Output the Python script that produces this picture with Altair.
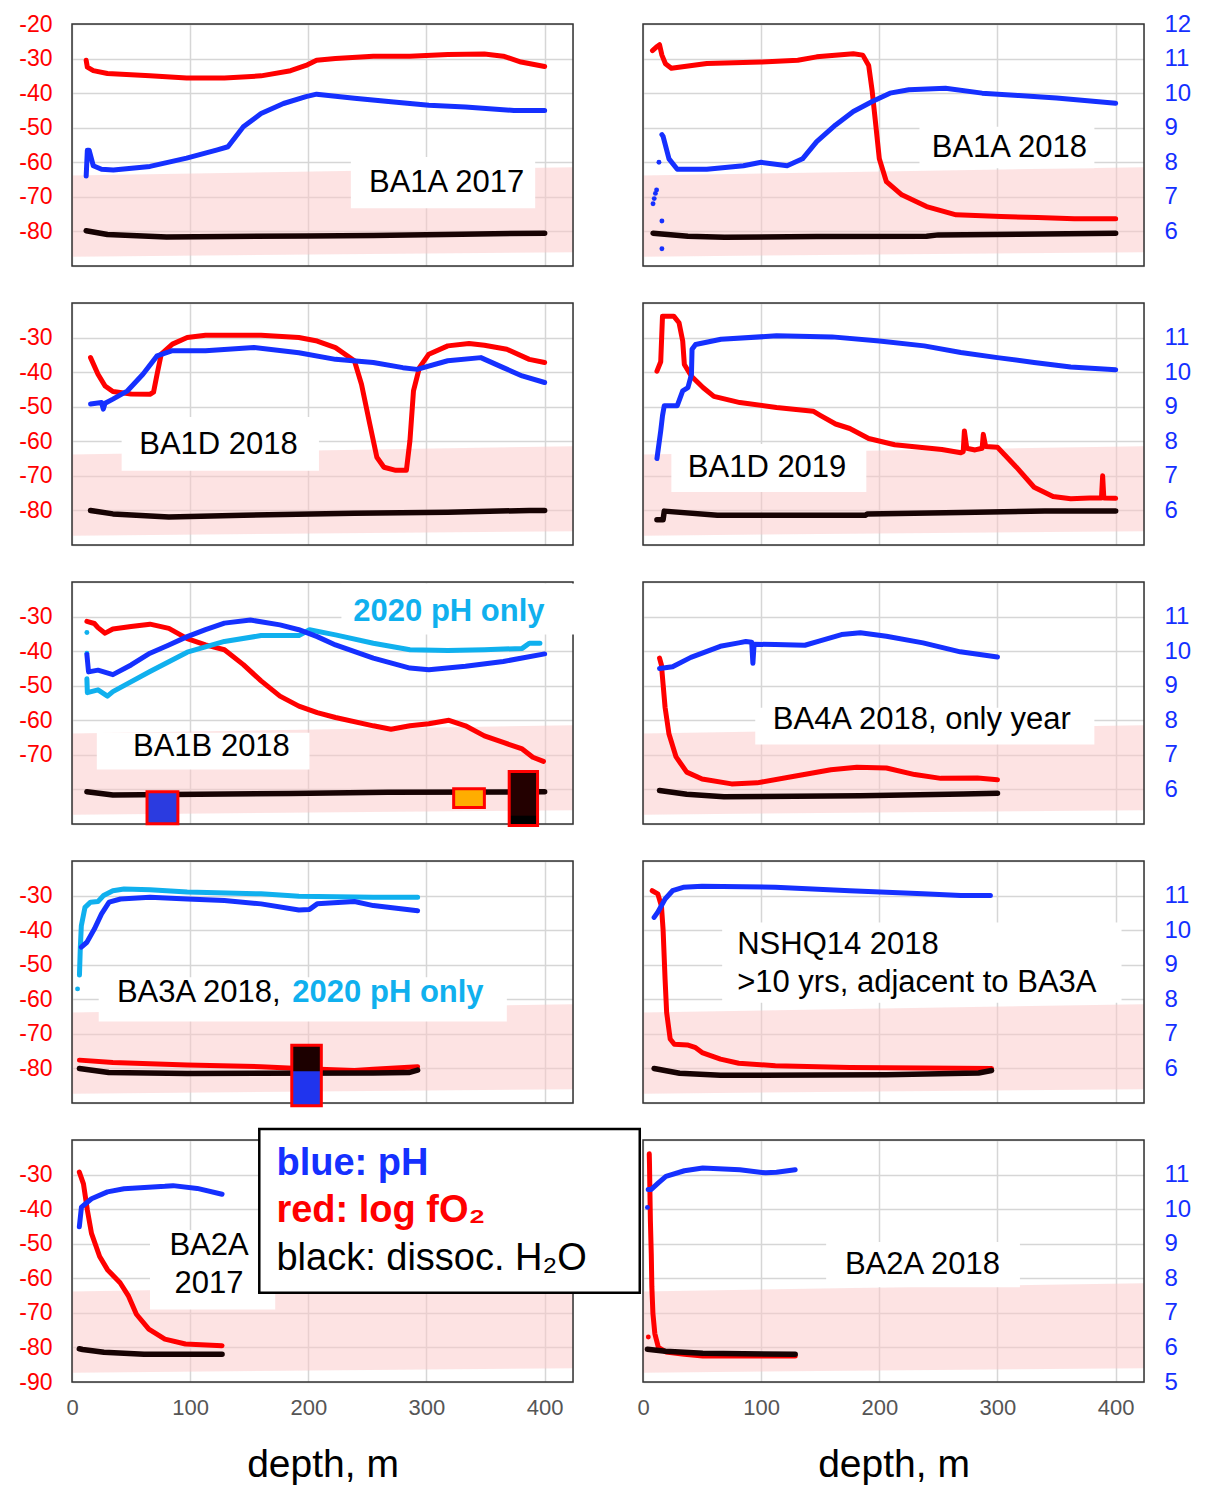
import altair as alt
import pandas as pd

FONT = "Liberation Sans"
RED = "#ff0000"
BLUE = "#1530ff"
LBLUE = "#10b0ee"
DARK = "#170303"
GRID = "#d6d6d6"
PINK = "#fbc8c8"
FRAME = "#333333"

# ---------------- data: [depth m, value] ----------------
# red = log fO2, black = dissociation of H2O (log fO2 units), blue / light blue = pH

# BA1A 2017
ba1a17_red = [[12, -30.5], [13, -32.5], [18, -33.5], [30, -34.3], [66, -35], [97, -35.6], [129, -35.6],
              [160, -35], [185, -33.5], [198, -32], [207, -30.5], [223, -30], [255, -29.3], [286, -29.3],
              [318, -28.8], [349, -28.7], [365, -29.3], [380, -31], [400, -32.3]]
ba1a17_ph = [[12, 7.6], [13, 8.35], [14.5, 8.35], [18, 7.9], [25, 7.8], [35, 7.78], [66, 7.88], [97, 8.12],
             [123, 8.36], [132, 8.45], [145, 9.03], [160, 9.41], [179, 9.7], [198, 9.9], [207, 9.97],
             [239, 9.85], [270, 9.75], [302, 9.65], [333, 9.6], [374, 9.5], [400, 9.5]]
ba1a17_h2o = [[12, -79.8], [30, -80.9], [80, -81.6], [200, -81.3], [255, -81.2], [330, -80.8], [400, -80.5]]

# BA1A 2018
ba1a18_red = [[8, -27.7], [12, -26.5], [14, -26], [16, -29], [19, -31.5], [24, -32.8], [54, -31.4],
              [100, -31], [131, -30.5], [147, -29.5], [178, -28.6], [186, -29], [191, -32], [194, -39.5],
              [197, -49.2], [200, -59], [206, -65.6], [219, -69.4], [240, -72.8], [265, -75.2],
              [303, -75.7], [334, -76], [365, -76.3], [400, -76.3]]
ba1a18_ph = [[16, 8.8], [17, 8.75], [22, 8.1], [29, 7.8], [54, 7.8], [85, 7.9], [100, 8.0], [122, 7.9],
             [135, 8.1], [147, 8.6], [163, 9.08], [178, 9.47], [194, 9.76], [209, 10.0], [225, 10.1],
             [256, 10.14], [287, 10.0], [318, 9.93], [350, 9.86], [400, 9.71]]
ba1a18_ph_dots = [[8.5, 6.8], [9.5, 6.95], [10.5, 7.1], [11.5, 7.2], [13.5, 8.0], [16, 6.3], [16, 5.5]]
ba1a18_h2o = [[8.5, -80.5], [38, -81.4], [69, -81.7], [147, -81.5], [240, -81.4], [250, -81.0],
              [318, -80.8], [400, -80.5]]

# BA1D 2018
ba1d18_red = [[15.7, -35.8], [22, -40.6], [28, -44], [34.6, -45.6], [50, -46.3], [66, -46.4], [69, -45.8],
              [72, -40.6], [75.5, -34.8], [85, -31.9], [97.5, -30], [113, -29.3], [160, -29.3], [192, -30],
              [207.5, -31], [223, -32.9], [239, -36.7], [245, -43.5], [252, -55], [258, -64.6],
              [264, -67.5], [274, -68.4], [283, -68.4], [286, -59.8], [289, -45.4], [294, -38.7],
              [302, -34.8], [318, -32.4], [336, -31.7], [349, -32.2], [368, -33.4], [387, -36.3], [400, -37.2]]
ba1d18_ph = [[15.7, 9.08], [25, 9.12], [26.5, 8.93], [28, 9.1], [34.6, 9.22], [47, 9.46], [60, 9.94],
             [72, 10.47], [85, 10.62], [113, 10.62], [154, 10.71], [192, 10.56], [223, 10.37], [255, 10.28],
             [280, 10.13], [292, 10.08], [318, 10.33], [346, 10.42], [365, 10.13], [381, 9.89], [400, 9.7]]
ba1d18_h2o = [[15.7, -80], [34.6, -81], [82, -81.9], [145, -81.4], [239, -80.8], [318, -80.5],
              [387, -80], [400, -80]]

# BA1D 2019
ba1d19_red = [[11.8, -39.7], [15, -37], [16.5, -23.8], [26, -23.8], [30.5, -25.7], [33.6, -31], [35, -37.8],
              [41, -41.2], [51, -44.5], [60, -47], [82, -48.8], [113, -50.2], [144, -51.3], [150, -52.5],
              [163, -55], [175, -56.3], [191, -59.2], [213, -61], [253, -62.4], [269, -63.3], [271, -63],
              [272, -57], [274, -62], [281, -62.5], [287, -62], [288, -58], [290, -61.5], [300, -61.7],
              [316, -67.5], [331, -73.3], [347, -76], [362, -76.6], [378, -76.4], [388, -76.4], [389, -70],
              [390, -76.4], [400, -76.5]]
ba1d19_ph = [[11.8, 7.5], [15, 8.3], [16.5, 8.74], [18, 9.03], [29, 9.03], [33.6, 9.46], [38, 9.55],
             [41, 9.93], [41.5, 10.66], [44.5, 10.8], [66, 10.95], [113, 11.05], [160, 11.02], [200, 10.9],
             [238, 10.76], [269, 10.57], [300, 10.42], [331, 10.28], [362, 10.15], [400, 10.07]]
ba1d19_h2o = [[11.8, -82.7], [17, -82.7], [18, -80.2], [63, -81.4], [188, -81.4], [190, -81],
              [269, -80.6], [340, -80.2], [400, -80.2]]

# BA1B 2018 (+ 2020 pH)
ba1b18_red = [[12.6, -31.4], [18.9, -32], [22, -33.2], [28, -34.8], [34.6, -33.6], [50, -32.9], [66, -32.2],
              [82, -33.4], [97.5, -36.4], [113, -38.2], [129, -39.6], [145, -43.9], [160, -48.6], [176, -53],
              [192, -55.9], [207.5, -57.8], [223, -59.2], [255, -61.6], [270, -62.6], [286, -61.6],
              [302, -61], [319, -60], [333, -61.6], [349, -64.5], [365, -66.4], [381, -68.3], [390, -70.7],
              [399, -71.9]]
ba1b18_ph = [[12.6, 9.9], [14, 9.4], [22, 9.45], [34.6, 9.32], [50, 9.6], [66, 9.94], [82, 10.18],
             [97.5, 10.42], [113, 10.62], [129, 10.81], [151, 10.9], [176, 10.76], [192, 10.62],
             [207.5, 10.42], [223, 10.18], [255, 9.8], [286, 9.51], [302, 9.46], [333, 9.56], [365, 9.7],
             [381, 9.8], [400, 9.92]]
ba1b20_ph = [[12.6, 9.2], [13, 8.8], [22, 8.88], [30, 8.7], [34.6, 8.83], [66, 9.41], [97.5, 9.97],
             [129, 10.28], [160, 10.45], [192, 10.45], [201, 10.62], [223, 10.47], [255, 10.23],
             [286, 10.04], [318, 10.02], [349, 10.04], [381, 10.08], [387, 10.23], [396, 10.23]]
ba1b20_ph_dots = [[12.6, 10.54], [12.6, 9.94]]
ba1b18_h2o = [[12.6, -80.7], [34.6, -81.6], [185, -81.2], [267, -80.8], [400, -80.7]]

# BA4A 2018
ba4a18_red = [[14, -42], [15.6, -44], [17, -49.6], [18.7, -56.3], [22, -64], [28, -70.6], [37, -75],
              [50, -77], [75, -78.4], [96.5, -78.1], [128, -76.2], [159, -74.3], [181, -73.6], [206, -73.8],
              [230, -75.7], [252, -76.8], [283, -76.7], [300, -77.2]]
ba4a18_ph = [[14, 9.5], [25, 9.55], [40.5, 9.82], [65.4, 10.14], [81, 10.24], [87, 10.28], [92, 10.26],
             [93, 9.65], [94, 10.2], [112, 10.19], [137, 10.17], [149, 10.29], [168, 10.48], [184, 10.53],
             [206, 10.43], [237, 10.24], [268.5, 9.98], [300, 9.83]]
ba4a18_h2o = [[14, -80.3], [37, -81.4], [68.5, -82.1], [184, -81.8], [271, -81.3], [300, -81.1]]

# BA3A 2018 (+ 2020 pH)
ba3a18_red = [[6.3, -77.6], [34.6, -78.3], [97.5, -79], [160, -79.5], [192, -80], [239, -80.6],
              [255, -80.2], [292.5, -79.5]]
ba3a18_ph = [[7.9, 9.51], [12.6, 9.65], [18.9, 10.03], [25, 10.47], [31.4, 10.81], [41, 10.9], [66, 10.95],
             [97.5, 10.9], [129, 10.86], [160, 10.76], [192, 10.58], [201, 10.6], [207.5, 10.76],
             [239, 10.83], [255, 10.71], [292.5, 10.56]]
ba3a20_ph = [[6.3, 8.7], [7, 9.46], [7.9, 10.13], [11, 10.66], [15.7, 10.81], [22, 10.83], [26.7, 11.0],
             [34.6, 11.14], [44, 11.19], [66, 11.17], [97.5, 11.1], [160, 11.05], [192, 10.98],
             [255, 10.95], [292.5, 10.95]]
ba3a20_ph_dots = [[4.7, 8.3]]
ba3a18_h2o = [[6.3, -80], [31, -81.2], [97.5, -81.5], [255, -81.3], [285, -81.2], [292.5, -80.5]]

# NSHQ14 2018
nshq14_red = [[7.8, -28.6], [12.5, -29.5], [15.6, -33], [17, -39.8], [18.7, -54.3], [20, -63.8], [23, -71.5],
              [26.5, -73], [37.5, -73.2], [44, -73.9], [50, -75.4], [65.6, -77.3], [81, -78.5], [112, -79.2],
              [175, -79.7], [237, -79.9], [295, -80]]
nshq14_ph = [[9.4, 10.37], [12.5, 10.52], [18.7, 10.9], [25, 11.14], [34, 11.24], [50, 11.27],
             [112, 11.24], [175, 11.14], [237, 11.05], [269, 11.0], [294, 11.0]]
nshq14_h2o = [[9.4, -80], [31, -81.4], [65.6, -82], [206, -81.8], [284, -81.3], [295, -80.6]]

# BA2A 2017
ba2a17_red = [[6.2, -29.3], [9.7, -32.7], [13, -40.3], [16.5, -47], [23.4, -53.7], [30, -57.5],
              [40.7, -61.3], [47.6, -65], [54.5, -70.4], [65, -74.7], [78.6, -77.6], [96, -79], [127, -79.5]]
ba2a17_ph = [[6.2, 9.49], [8, 10.06], [16.5, 10.3], [30, 10.5], [44, 10.59], [78.6, 10.66], [85.5, 10.68],
             [106, 10.6], [127, 10.43]]
ba2a17_h2o = [[6.2, -80.4], [9, -80.6], [27, -81.4], [61, -82], [127, -82]]

# BA2A 2018
ba2a18_red = [[5.3, -24], [5.5, -27], [5.8, -33.8], [6.25, -43.3], [7, -52.9], [7.5, -62.5], [8.4, -70.2],
              [10, -76], [13, -80], [19.4, -81.3], [35, -82], [50.6, -82.5], [128.8, -82.5]]
ba2a18_red_dots = [[4.5, -77]]
ba2a18_ph = [[4.4, 10.57], [7, 10.57], [13, 10.76], [19.4, 10.95], [35, 11.11], [50.6, 11.19],
             [81.9, 11.14], [103.8, 11.05], [113, 11.07], [128.8, 11.14]]
ba2a18_ph_dots = [[3.75, 10.05]]
ba2a18_h2o = [[3.75, -80.5], [19, -81.1], [50.6, -81.7], [128.8, -82]]

# pink band (log fO2) at depth 0 and the right edge
band_depth = [0, 424]
band_top = [-63.8, -61.4]
band_bottom = [-87.3, -86.0]

# axis domains
depth_domain = [0, 424]
fo2_domain = [-90, -20]
ph_domain = [5, 12]

# ---------------- annotations ----------------
# boxes: [x1, x2, y1, y2] in depth / log fO2 units
# texts: [x, y, text, color, weight, align, size]
ba1a17_boxes = [[236, 392, -58.5, -73.3]]
ba1a17_texts = [[317, -66, "BA1A 2017", "#000000", "normal", "center", 31]]
ba1a18_boxes = [[234, 382, -49.7, -61.7]]
ba1a18_texts = [[310, -56, "BA1A 2018", "#000000", "normal", "center", 31]]
ba1d18_boxes = [[42, 209, -53, -68.5]]
ba1d18_texts = [[124, -61, "BA1D 2018", "#000000", "normal", "center", 31]]
ba1d19_boxes = [[24, 189, -60.8, -74.7]]
ba1d19_texts = [[105, -67.8, "BA1D 2019", "#000000", "normal", "center", 31]]
ba1b18_boxes = [[21, 201, -63.6, -74.2], [228, 432, -20.4, -35.2]]
ba1b18_texts = [[118, -67.6, "BA1B 2018", "#000000", "normal", "center", 31],
                [319, -28.6, "2020 pH only", LBLUE, "bold", "center", 31]]
ba1b18_squares = [[63.5, 89.6, -80.7, -89.9, "#2b3be0"], [323, 349, -79.8, -85.2, "#ffad00"],
                  [370, 394, -74.8, -90.4, "#230000"], [371, 393, -87.6, -90.2, "#000000"]]
ba1b18_outlines = [[63.5, 89.6, -80.7, -89.9], [323, 349, -79.8, -85.2], [370, 394, -74.8, -90.4]]
ba4a18_boxes = [[95, 382, -56.4, -67]]
ba4a18_texts = [[236, -59.8, "BA4A 2018, only year", "#000000", "normal", "center", 31]]
ba3a18_boxes = [[22.6, 368, -53.6, -66.4]]
ba3a18_texts = [[38, -58.3, "BA3A 2018,", "#000000", "normal", "left", 31],
                [186.5, -58.3, "2020 pH only", LBLUE, "bold", "left", 31]]
ba3a18_squares = [[186, 211, -73.3, -80.8, "#1c0000"], [186, 211, -80.8, -90.8, "#2034ee"]]
ba3a18_outlines = [[186, 211, -73.3, -90.8]]
nshq14_boxes = [[67, 405, -37.8, -61]]
nshq14_texts = [[79.7, -44.2, "NSHQ14 2018", "#000000", "normal", "left", 31],
                [79.7, -55.4, ">10 yrs, adjacent to BA3A", "#000000", "normal", "left", 31]]
ba2a17_boxes = [[66, 172, -46, -69]]
ba2a17_texts = [[116, -50.7, "BA2A", "#000000", "normal", "center", 31],
                [116, -61.6, "2017", "#000000", "normal", "center", 31]]
legend_box = [[158.5, 480.5, -16.8, -64.2]]
legend_texts = [[173, -26.8, "blue: pH", BLUE, "bold", "left", 38],
                [173, -40.6, "red: log fO\u2082", RED, "bold", "left", 38],
                [173, -54.4, "black: dissoc. H\u2082O", "#000000", "normal", "left", 38]]
ba2a18_boxes = [[155, 319, -49.5, -62.6]]
ba2a18_texts = [[236.5, -56.3, "BA2A 2018", "#000000", "normal", "center", 31]]

# left-axis label ranges (log fO2) and right-axis label ranges (pH) by row
left_label_range = [(-80, -20), (-80, -30), (-70, -30), (-80, -30), (-90, -30)]
right_label_range = [(6, 12), (6, 11), (6, 11), (6, 11), (5, 11)]

panels = [
    dict(row=0, col=0, red=ba1a17_red, ph=ba1a17_ph, h2o=ba1a17_h2o, boxes=ba1a17_boxes, texts=ba1a17_texts),
    dict(row=0, col=1, red=ba1a18_red, ph=ba1a18_ph, h2o=ba1a18_h2o, ph_dots=ba1a18_ph_dots,
         boxes=ba1a18_boxes, texts=ba1a18_texts),
    dict(row=1, col=0, red=ba1d18_red, ph=ba1d18_ph, h2o=ba1d18_h2o, boxes=ba1d18_boxes, texts=ba1d18_texts),
    dict(row=1, col=1, red=ba1d19_red, ph=ba1d19_ph, h2o=ba1d19_h2o, boxes=ba1d19_boxes, texts=ba1d19_texts),
    dict(row=2, col=0, red=ba1b18_red, ph=ba1b18_ph, ph2=ba1b20_ph, ph2_dots=ba1b20_ph_dots, h2o=ba1b18_h2o,
         boxes=ba1b18_boxes, texts=ba1b18_texts, squares=ba1b18_squares, outlines=ba1b18_outlines),
    dict(row=2, col=1, red=ba4a18_red, ph=ba4a18_ph, h2o=ba4a18_h2o, boxes=ba4a18_boxes, texts=ba4a18_texts),
    dict(row=3, col=0, red=ba3a18_red, ph=ba3a18_ph, ph2=ba3a20_ph, ph2_dots=ba3a20_ph_dots, h2o=ba3a18_h2o,
         boxes=ba3a18_boxes, texts=ba3a18_texts, squares=ba3a18_squares, outlines=ba3a18_outlines),
    dict(row=3, col=1, red=nshq14_red, ph=nshq14_ph, h2o=nshq14_h2o, boxes=nshq14_boxes, texts=nshq14_texts),
    dict(row=4, col=0, red=ba2a17_red, ph=ba2a17_ph, h2o=ba2a17_h2o, boxes=ba2a17_boxes, texts=ba2a17_texts,
         legend_box=legend_box, legend_texts=legend_texts),
    dict(row=4, col=1, red=ba2a18_red, red_dots=ba2a18_red_dots, ph=ba2a18_ph, ph_dots=ba2a18_ph_dots,
         h2o=ba2a18_h2o, boxes=ba2a18_boxes, texts=ba2a18_texts),
]

# ---------------- chart construction ----------------
XS = alt.Scale(domain=depth_domain, nice=False, zero=False)
FS = alt.Scale(domain=fo2_domain, nice=False, zero=False)
PS = alt.Scale(domain=ph_domain, nice=False, zero=False)
W, H = 501, 242


def series_df(pairs):
    return pd.DataFrame({"d": [p[0] for p in pairs], "v": [p[1] for p in pairs],
                         "i": list(range(len(pairs)))})


def box_df(boxes):
    return pd.DataFrame({"x1": [b[0] for b in boxes], "x2": [b[1] for b in boxes],
                         "y1": [b[2] for b in boxes], "y2": [b[3] for b in boxes]})


def x_axis(bottom):
    if bottom:
        return alt.Axis(values=[0, 100, 200, 300, 400], grid=True, gridColor=GRID, gridWidth=1.5,
                        ticks=False, domain=False, labelFlush=False, labelColor="#555555", labelFont=FONT,
                        labelFontSize=22, labelPadding=15, title="depth, m", titleFont=FONT,
                        titleFontSize=39, titleFontWeight="normal", titleColor="#000000", titlePadding=27)
    return alt.Axis(values=[0, 100, 200, 300, 400], grid=True, gridColor=GRID, gridWidth=1.5,
                    ticks=False, domain=False, labels=False, title=None)


def fo2_axis(rng):
    lo, hi = rng
    return alt.Axis(orient="left", values=list(range(-90, -19, 10)), grid=True, gridColor=GRID,
                    gridWidth=1.5, ticks=False, domain=False, labelColor=RED, labelFont=FONT,
                    labelFontSize=23, labelPadding=20, title=None,
                    labelExpr=f"datum.value >= {lo} && datum.value <= {hi} ? '' + datum.value : ''")


def ph_axis(rng):
    lo, hi = rng
    return alt.Axis(orient="right", values=list(range(5, 13)), grid=True, gridColor=GRID,
                    gridWidth=1.5, ticks=False, domain=False, labelColor=BLUE, labelFont=FONT,
                    labelFontSize=24, labelPadding=20, title=None,
                    labelExpr=f"datum.value >= {lo} && datum.value <= {hi} ? '' + datum.value : ''")


def build_panel(p):
    left = p["col"] == 0
    bottom = p["row"] == 4
    xa = x_axis(bottom)
    fa = fo2_axis(left_label_range[p["row"]]) if left else None
    pa = None if left else ph_axis(right_label_range[p["row"]])

    def X(f):
        return alt.X(f + ":Q", scale=XS, axis=xa)

    def YF(f):
        return alt.Y(f + ":Q", scale=FS, axis=fa)

    def YP(f):
        return alt.Y(f + ":Q", scale=PS, axis=pa)

    def line(pairs, color, yfun, width=5):
        return alt.Chart(series_df(pairs)).mark_line(
            color=color, strokeWidth=width, strokeCap="round", strokeJoin="round"
        ).encode(x=X("d"), y=yfun("v"), order=alt.Order("i:Q"))

    def dots(pairs, color, yfun):
        return alt.Chart(series_df(pairs)).mark_circle(color=color, size=24, opacity=1).encode(
            x=X("d"), y=yfun("v"))

    def rects(boxes, **kw):
        return alt.Chart(box_df(boxes)).mark_rect(**kw).encode(
            x=X("x1"), x2=alt.X2("x2:Q"), y=YF("y1"), y2=alt.Y2("y2:Q"))

    def texts(items):
        out = []
        for t in items:
            out.append(alt.Chart(pd.DataFrame({"x": [t[0]], "y": [t[1]]})).mark_text(
                text=t[2], color=t[3], fontWeight=t[4], align=t[5], fontSize=t[6], font=FONT,
                baseline="middle").encode(x=X("x"), y=YF("y")))
        return out

    band = alt.Chart(pd.DataFrame({"d": band_depth, "top": band_top, "bot": band_bottom})).mark_area(
        color=PINK, opacity=0.5).encode(x=X("d"), y=YF("top"), y2=alt.Y2("bot:Q"))
    frame = rects([[depth_domain[0], depth_domain[1], fo2_domain[0], fo2_domain[1]]],
                  fill="white", fillOpacity=0, stroke=FRAME, strokeWidth=1.5)
    fo2_layers = [band, frame, rects(p["boxes"], color="white", opacity=1)]
    fo2_layers.append(line(p["red"], RED, YF))
    if "red_dots" in p:
        fo2_layers.append(dots(p["red_dots"], RED, YF))
    fo2_layers.append(line(p["h2o"], DARK, YF, 5.5))
    if "squares" in p:
        sq = p["squares"]
        sq_df = pd.DataFrame({"x1": [s[0] for s in sq], "x2": [s[1] for s in sq], "y1": [s[2] for s in sq],
                              "y2": [s[3] for s in sq], "fill": [s[4] for s in sq]})
        fo2_layers.append(alt.Chart(sq_df).mark_rect(opacity=1).encode(
            x=X("x1"), x2=alt.X2("x2:Q"), y=YF("y1"), y2=alt.Y2("y2:Q"),
            fill=alt.Fill("fill:N", scale=None)))
        fo2_layers.append(rects(p["outlines"], fill="white", fillOpacity=0, stroke=RED, strokeWidth=3))
    fo2_layers.extend(texts(p["texts"]))
    if "legend_box" in p:
        fo2_layers.append(rects(p["legend_box"], fill="white", stroke="#000000", strokeWidth=2.5))
        fo2_layers.extend(texts(p["legend_texts"]))

    ph_layers = []
    if "ph2" in p:
        ph_layers.append(line(p["ph2"], LBLUE, YP))
        ph_layers.append(dots(p["ph2_dots"], LBLUE, YP))
    ph_layers.append(line(p["ph"], BLUE, YP))
    if "ph_dots" in p:
        ph_layers.append(dots(p["ph_dots"], BLUE, YP))

    return alt.layer(alt.layer(*fo2_layers), alt.layer(*ph_layers)).resolve_scale(
        y="independent").properties(width=W, height=H)


cells = [build_panel(p) for p in sorted(panels, key=lambda q: (q["row"], q["col"]))]

chart = alt.concat(*cells, columns=2, spacing={"row": 37, "column": 70}, bounds="flush").properties(
    padding={"left": 10, "top": 3, "right": 5, "bottom": 2}
).configure_view(stroke="transparent").configure(background="white")

chart.save("out.html", embed_options={"renderer": "svg", "actions": False})
